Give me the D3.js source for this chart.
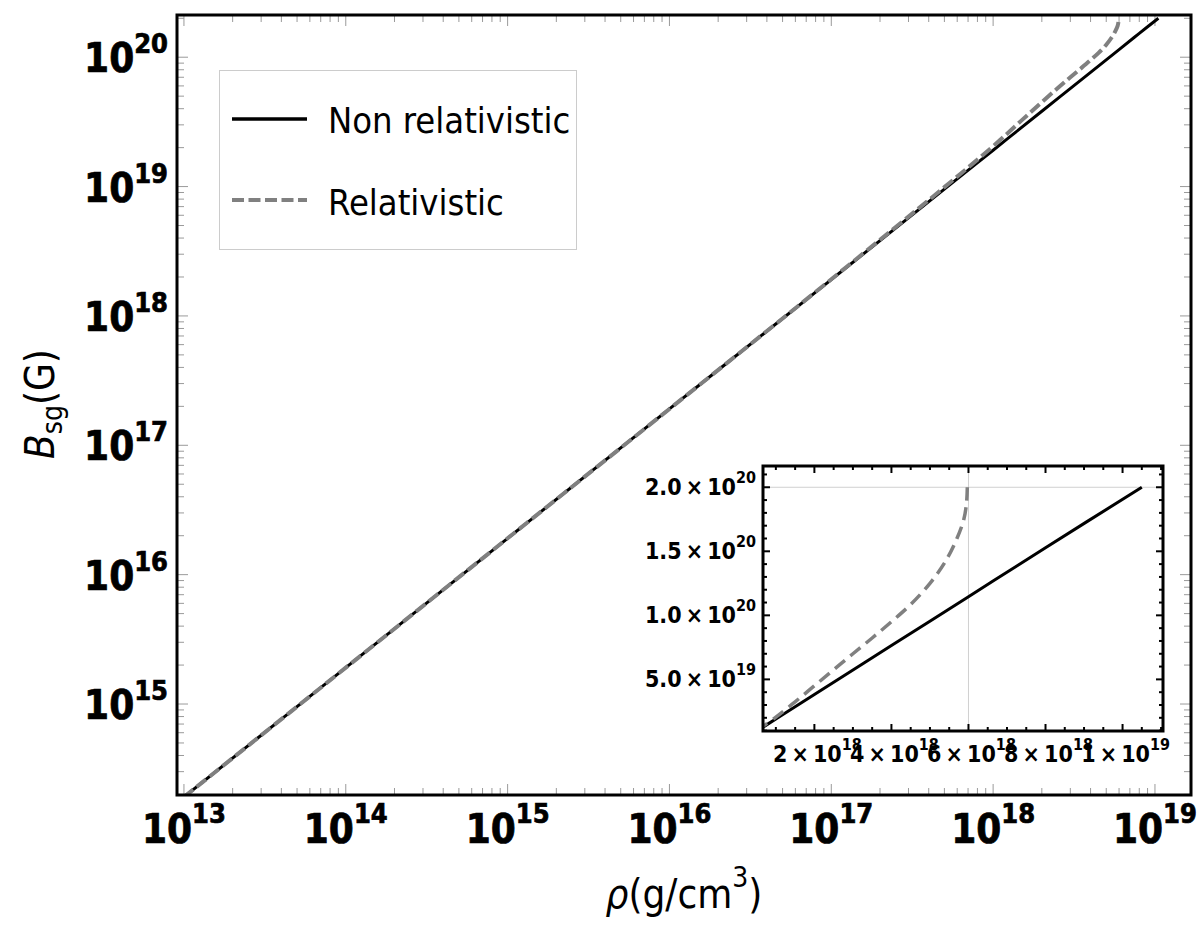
<!DOCTYPE html>
<html>
<head>
<meta charset="utf-8">
<script src="https://cdn.jsdelivr.net/npm/d3@7"></script>
<style>
body { margin: 0; background: #fff; }
text { font-family: "DejaVu Sans Condensed", "DejaVu Sans", sans-serif; font-stretch: condensed; }
</style>
</head>
<body>
<svg id="chart" width="1200" height="928"></svg>
<script>
// ---- data ----
// non relativistic branch
const rhoNR = [1e13, 1e14, 1e15, 1e16, 1e17, 5e17, 1e18, 2e18, 4e18, 6e18, 8e18, 1.05e19];
const bNR   = [1.91e14, 1.91e15, 1.91e16, 1.91e17, 1.91e18, 9.55e18, 1.91e19, 3.82e19, 7.64e19, 1.146e20, 1.528e20, 2.0e20];
// relativistic branch
const rhoRel = [1e13, 1e14, 1e15, 1e16, 1e17, 5e17, 1e18, 1.5e18, 2e18, 2.5e18, 3e18, 3.5e18, 4e18, 4.5e18, 5e18, 5.4e18, 5.7e18, 5.88e18, 5.95e18, 5.97e18];
const bRel   = [1.91e14, 1.91e15, 1.91e16, 1.91e17, 1.92e18, 9.9e18, 2.05e19, 3.25e19, 4.5e19, 5.75e19, 7.0e19, 8.23e19, 9.5e19, 1.085e20, 1.25e20, 1.42e20, 1.6e20, 1.75e20, 1.88e20, 2.0e20];

// inset tick labels
const insetXTicks = [2e18, 4e18, 6e18, 8e18, 1e19];
const insetXMant  = ["2", "4", "6", "8", "1"];
const insetXExp   = ["18", "18", "18", "18", "19"];
const insetYTicks = [5e19, 1e20, 1.5e20, 2e20];
const insetYMant  = ["5.0", "1.0", "1.5", "2.0"];
const insetYExp   = ["19", "20", "20", "20"];

const legendLabels = ["Non relativistic", "Relativistic"];

const svg = d3.select("#chart");

// ---- main plot ----
const pL = 177, pR = 1191, pT = 15, pB = 795;
let x = d3.scaleLog().domain([9.06e12, 1.67e19]).range([pL, pR]);
let y = d3.scaleLog().domain([1.98e14, 2.12e20]).range([pB, pT]);

function isMajor(v) {
    return Math.abs(Math.log10(v) - Math.round(Math.log10(v))) < 1e-6;
}

let tickG = svg.append("g").attr("stroke", "#9a9a9a").attr("stroke-width", 1);
x.ticks().forEach(function(t) {
    let len = isMajor(t) ? 11 : 7;
    tickG.append("line").attr("x1", x(t)).attr("x2", x(t)).attr("y1", pB).attr("y2", pB - len);
    tickG.append("line").attr("x1", x(t)).attr("x2", x(t)).attr("y1", pT).attr("y2", pT + len);
});
y.ticks().forEach(function(t) {
    let len = isMajor(t) ? 11 : 7;
    tickG.append("line").attr("y1", y(t)).attr("y2", y(t)).attr("x1", pL).attr("x2", pL + len);
    tickG.append("line").attr("y1", y(t)).attr("y2", y(t)).attr("x1", pR).attr("x2", pR - len);
});

// tick labels (a thin stroke makes the bold face a bit heavier)
x.ticks().filter(isMajor).forEach(function(t) {
    let lab = svg.append("text").attr("x", x(t)).attr("y", 843)
        .attr("text-anchor", "middle").attr("font-size", 40).attr("font-weight", "bold")
        .attr("stroke", "#000").attr("stroke-width", 0.7);
    lab.append("tspan").text("10");
    lab.append("tspan").attr("dy", -20).attr("font-size", 27).text(Math.round(Math.log10(t)));
});
y.ticks().filter(isMajor).forEach(function(t) {
    let lab = svg.append("text").attr("x", 168).attr("y", y(t) + 15)
        .attr("text-anchor", "end").attr("font-size", 40).attr("font-weight", "bold")
        .attr("stroke", "#000").attr("stroke-width", 0.7);
    lab.append("tspan").text("10");
    lab.append("tspan").attr("dy", -19).attr("font-size", 27).text(Math.round(Math.log10(t)));
});

svg.append("clipPath").attr("id", "mainClip")
    .append("rect").attr("x", pL).attr("y", pT).attr("width", pR - pL).attr("height", pB - pT);

let mainLine = d3.line().x(d => x(d[0])).y(d => y(d[1])).curve(d3.curveCatmullRom);

svg.append("path").datum(d3.zip(rhoNR, bNR))
    .attr("clip-path", "url(#mainClip)")
    .attr("d", mainLine).attr("fill", "none").attr("stroke", "#000").attr("stroke-width", 3);
svg.append("path").datum(d3.zip(rhoRel, bRel))
    .attr("clip-path", "url(#mainClip)")
    .attr("d", mainLine).attr("fill", "none").attr("stroke", "#808080")
    .attr("stroke-width", 4).attr("stroke-dasharray", "12,4.5");

svg.append("rect").attr("x", pL).attr("y", pT).attr("width", pR - pL).attr("height", pB - pT)
    .attr("fill", "none").attr("stroke", "#000").attr("stroke-width", 3);

// axis titles
let xt = svg.append("text").attr("x", 684).attr("y", 908).attr("text-anchor", "middle").attr("font-size", 40);
xt.append("tspan").attr("font-style", "italic").text("ρ");
xt.append("tspan").text("(g/cm");
xt.append("tspan").attr("dy", -21).attr("font-size", 28).text("3");
xt.append("tspan").attr("dy", 21).text(")");

let yt = svg.append("text").attr("transform", "translate(54,404) rotate(-90)")
    .attr("text-anchor", "middle").attr("font-size", 40);
yt.append("tspan").attr("font-style", "italic").text("B");
yt.append("tspan").attr("dy", 8).attr("font-size", 28).text("sg");
yt.append("tspan").attr("dy", -8).text("(G)");

// legend
svg.append("rect").attr("x", 219.5).attr("y", 70.5).attr("width", 357).attr("height", 179)
    .attr("fill", "#fff").attr("stroke", "#ccc").attr("stroke-width", 1);
svg.append("line").attr("x1", 232).attr("x2", 307).attr("y1", 119).attr("y2", 119)
    .attr("stroke", "#000").attr("stroke-width", 3.5);
svg.append("line").attr("x1", 232).attr("x2", 307).attr("y1", 200).attr("y2", 200)
    .attr("stroke", "#808080").attr("stroke-width", 4).attr("stroke-dasharray", "12,4.5");
svg.append("text").attr("x", 328).attr("y", 133).attr("font-size", 36).text(legendLabels[0]);
svg.append("text").attr("x", 328).attr("y", 215).attr("font-size", 36).text(legendLabels[1]);

// ---- inset ----
const iL = 763, iR = 1163, iT = 466, iB = 731;
let xi = d3.scaleLinear().domain([6.66e17, 1.105e19]).range([iL, iR]);
let yi = d3.scaleLinear().domain([9.7e18, 2.166e20]).range([iB, iT]);

svg.append("rect").attr("x", iL).attr("y", iT).attr("width", iR - iL).attr("height", iB - iT).attr("fill", "#fff");

// grid lines at the relativistic limit
svg.append("line").attr("x1", xi(6e18)).attr("x2", xi(6e18)).attr("y1", iT).attr("y2", iB)
    .attr("stroke", "#d0d0d0").attr("stroke-width", 1);
svg.append("line").attr("x1", iL).attr("x2", iR).attr("y1", yi(2e20)).attr("y2", yi(2e20))
    .attr("stroke", "#d0d0d0").attr("stroke-width", 1);

let itick = svg.append("g").attr("stroke", "#000").attr("stroke-width", 2);
d3.range(2, 23).map(k => k * 5e17).forEach(function(t) {
    let len = insetXTicks.some(m => Math.abs(m - t) < 1e15) ? 7 : 4;
    itick.append("line").attr("x1", xi(t)).attr("x2", xi(t)).attr("y1", iB).attr("y2", iB - len);
    itick.append("line").attr("x1", xi(t)).attr("x2", xi(t)).attr("y1", iT).attr("y2", iT + len);
});
d3.range(1, 22).map(k => k * 1e19).forEach(function(t) {
    let len = insetYTicks.some(m => Math.abs(m - t) < 1e16) ? 7 : 4;
    itick.append("line").attr("y1", yi(t)).attr("y2", yi(t)).attr("x1", iL).attr("x2", iL + len);
    itick.append("line").attr("y1", yi(t)).attr("y2", yi(t)).attr("x1", iR).attr("x2", iR - len);
});

const thin = "\u2009";
insetXTicks.forEach(function(t, i) {
    let lab = svg.append("text").attr("x", xi(t) + 3).attr("y", 762).attr("text-anchor", "middle")
        .attr("font-size", 23).attr("font-weight", "bold");
    lab.append("tspan").text(insetXMant[i] + thin + "×" + thin + "10");
    lab.append("tspan").attr("dy", -12).attr("font-size", 16).text(insetXExp[i]);
});
insetYTicks.forEach(function(t, i) {
    let lab = svg.append("text").attr("x", 756).attr("y", yi(t) + 8).attr("text-anchor", "end")
        .attr("font-size", 23).attr("font-weight", "bold");
    lab.append("tspan").text(insetYMant[i] + thin + "×" + thin + "10");
    lab.append("tspan").attr("dy", -12).attr("font-size", 16).text(insetYExp[i]);
});

svg.append("clipPath").attr("id", "insetClip")
    .append("rect").attr("x", iL).attr("y", iT).attr("width", iR - iL).attr("height", iB - iT);

let insetLine = d3.line().x(d => xi(d[0])).y(d => yi(d[1])).curve(d3.curveCatmullRom);

svg.append("path").datum(d3.zip(rhoNR, bNR).filter(d => d[0] >= 5e17))
    .attr("clip-path", "url(#insetClip)")
    .attr("d", insetLine).attr("fill", "none").attr("stroke", "#000").attr("stroke-width", 3);
svg.append("path").datum(d3.zip(rhoRel, bRel).filter(d => d[0] >= 5e17))
    .attr("clip-path", "url(#insetClip)")
    .attr("d", insetLine).attr("fill", "none").attr("stroke", "#808080")
    .attr("stroke-width", 3.5).attr("stroke-dasharray", "13,7");

svg.append("rect").attr("x", iL).attr("y", iT).attr("width", iR - iL).attr("height", iB - iT)
    .attr("fill", "none").attr("stroke", "#000").attr("stroke-width", 3);
</script>
</body>
</html>
